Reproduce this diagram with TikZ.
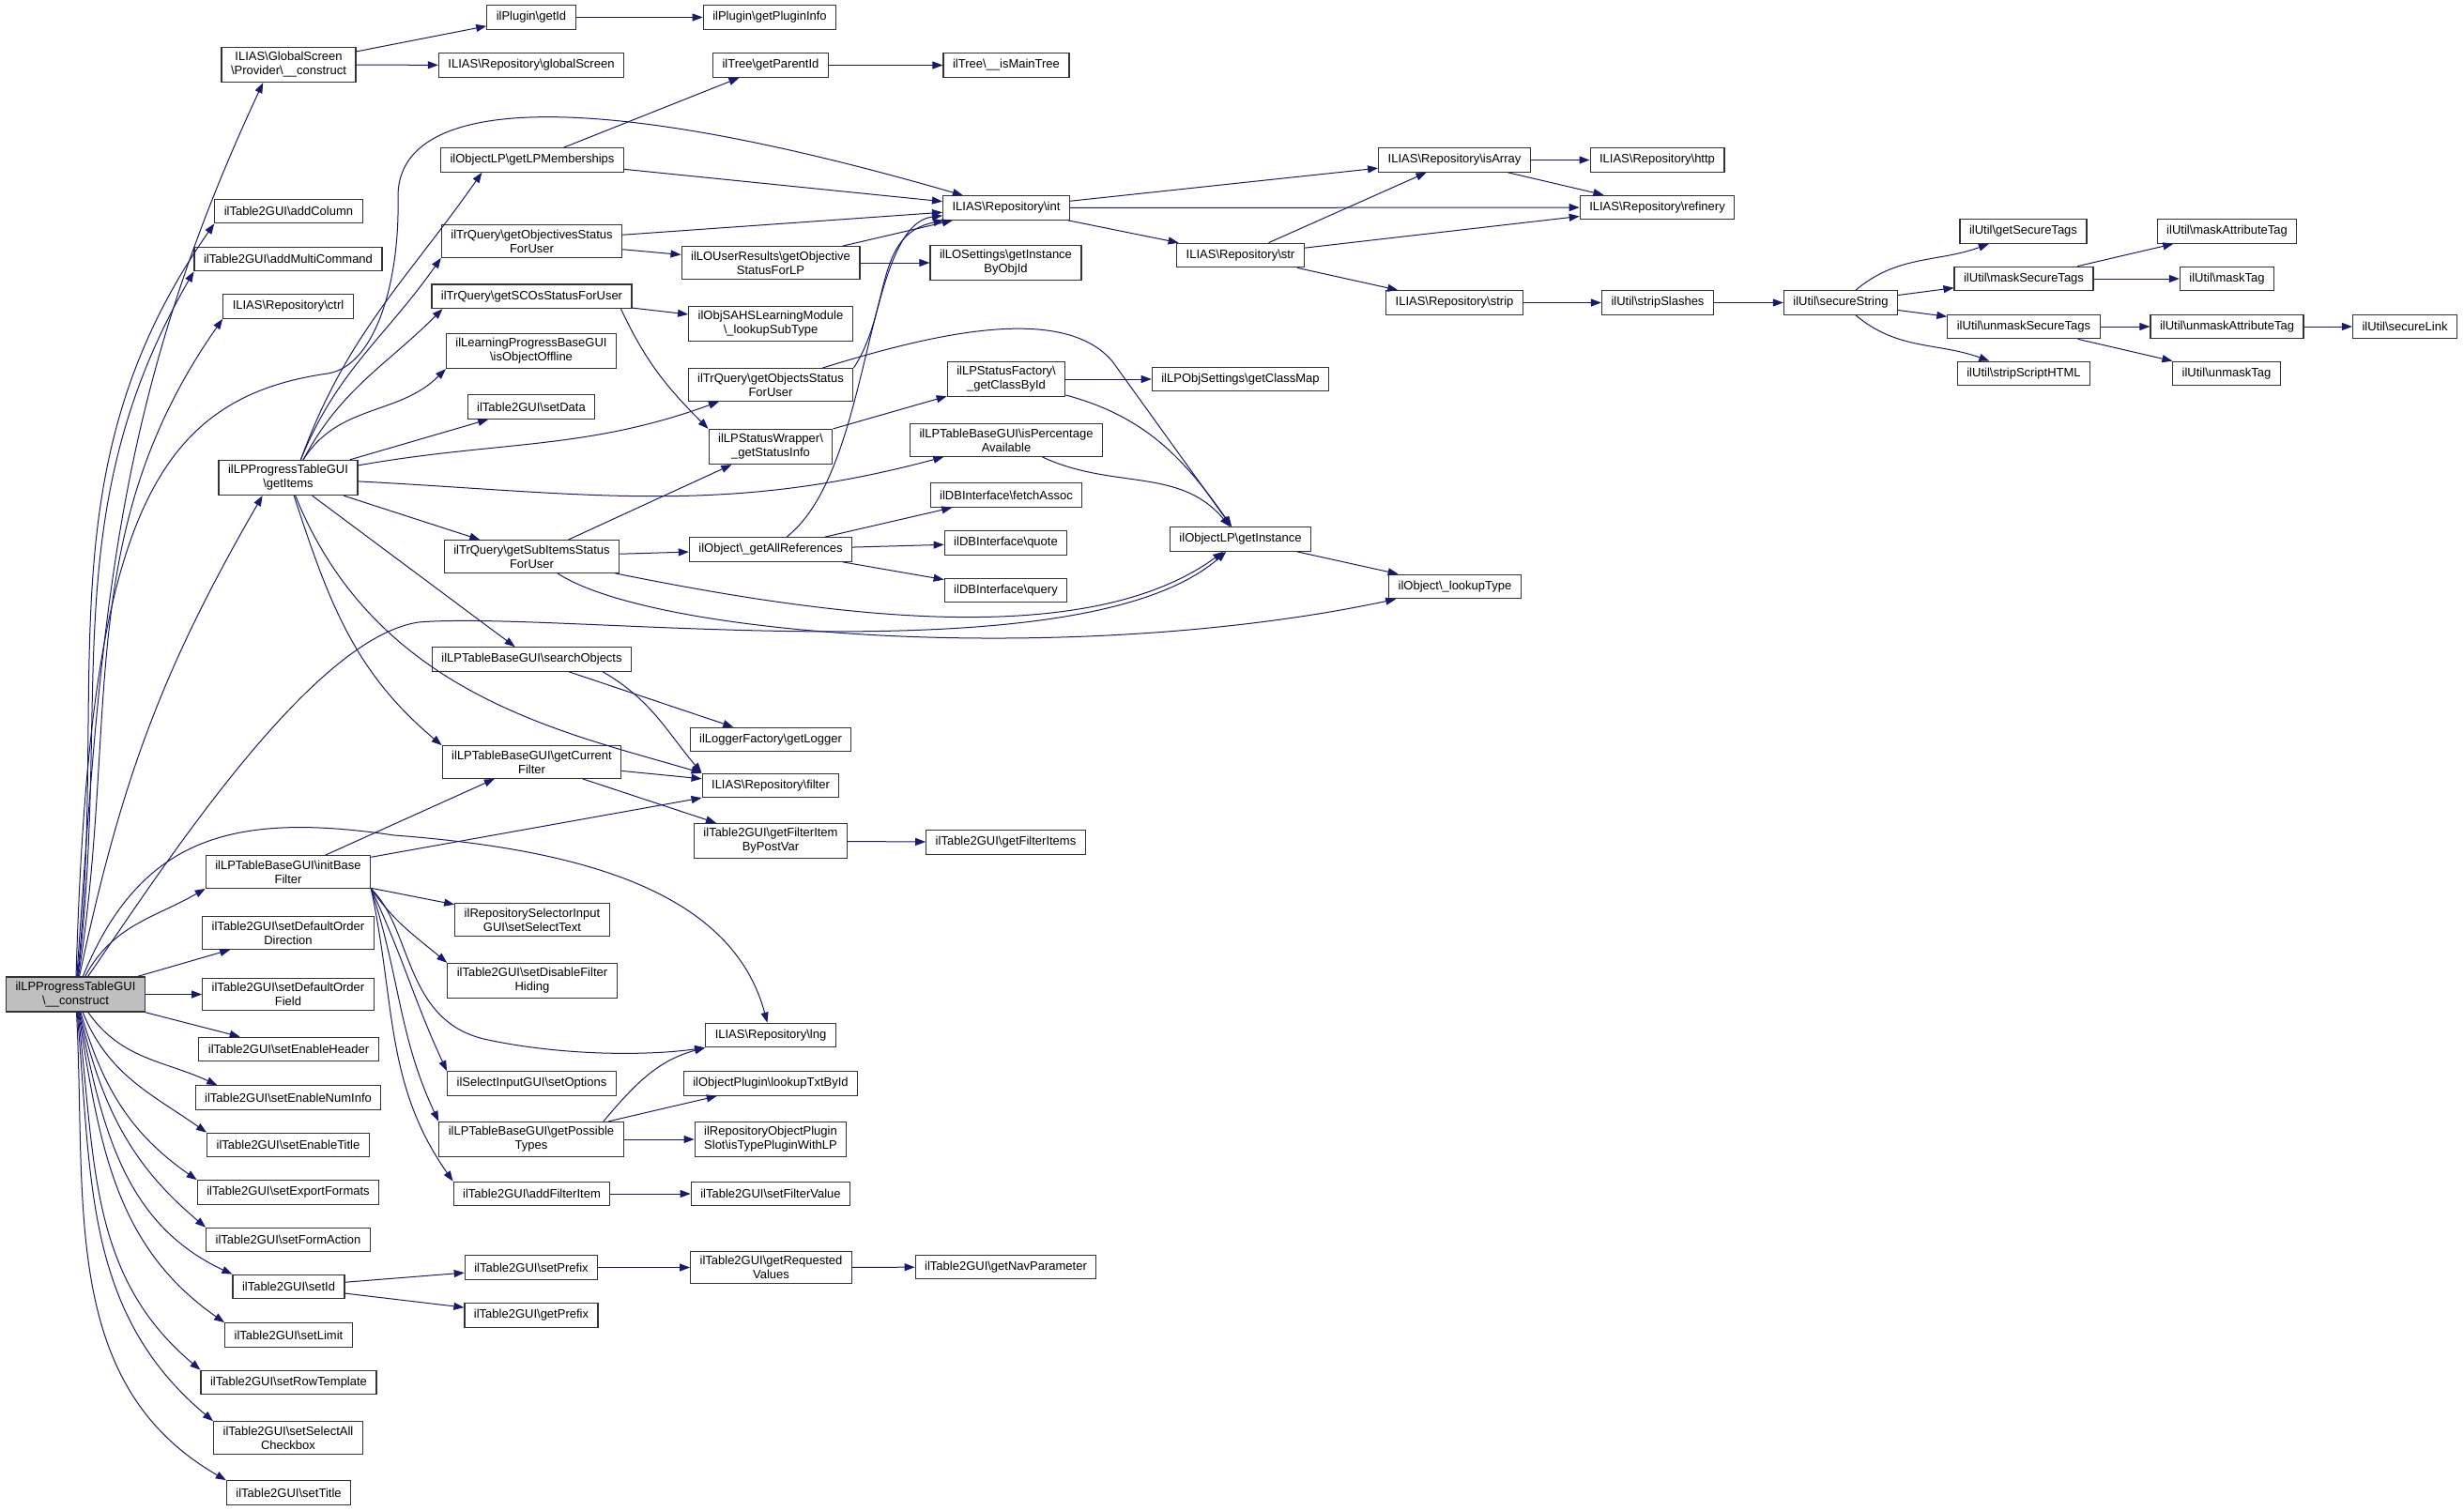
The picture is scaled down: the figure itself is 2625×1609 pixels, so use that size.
\documentclass[tikz,border=0pt]{standalone}
\usepackage{fontspec}
\setmainfont{Liberation Sans}
\usepackage{tikz}
\usetikzlibrary{arrows.meta, positioning}
\definecolor{callblue}{HTML}{191970}
\definecolor{mainfill}{HTML}{BFBFBF}
\newcommand{\bs}{\textbackslash}

\begin{document}
\begin{tikzpicture}[
    x=1pt, y=1pt,
    func/.style={draw=black!80, line width=1.2pt, rectangle, fill=white, align=center, inner xsep=10pt, inner ysep=5pt, minimum height=25.5pt, font=\fontsize{13}{15}\selectfont},
    mainfunc/.style={func, fill=mainfill},
    calls/.style={draw=callblue, line width=1pt, -{Triangle[length=11pt, width=8pt]}}
]
    \useasboundingbox (0, 0) rectangle (2625, -1609);

    % The constructor
    \node[mainfunc] (MAIN) at (80.5, -1059.5) {ilLPProgressTableGUI\\\bs\_\_construct};

    % Direct calls of the constructor
    \node[func] (GS_CONSTRUCT) at (307.5, -69) {ILIAS\bs GlobalScreen\\\bs Provider\bs\_\_construct};
    \node[func] (ADD_COLUMN) at (307.5, -225) {ilTable2GUI\bs addColumn};
    \node[func] (ADD_MULTI) at (307, -276) {ilTable2GUI\bs addMultiCommand};
    \node[func] (CTRL) at (307, -326.5) {ILIAS\bs Repository\bs ctrl};
    \node[func] (GET_ITEMS) at (307, -509) {ilLPProgressTableGUI\\\bs getItems};
    \node[func] (INIT_BASE) at (307, -929) {ilLPTableBaseGUI\bs initBase\\Filter};
    \node[func] (ORDER_DIR) at (307, -994) {ilTable2GUI\bs setDefaultOrder\\Direction};
    \node[func] (ORDER_FIELD) at (307, -1059.5) {ilTable2GUI\bs setDefaultOrder\\Field};
    \node[func] (EN_HEADER) at (307.5, -1118) {ilTable2GUI\bs setEnableHeader};
    \node[func] (EN_NUMINFO) at (307, -1169.5) {ilTable2GUI\bs setEnableNumInfo};
    \node[func] (EN_TITLE) at (307, -1220) {ilTable2GUI\bs setEnableTitle};
    \node[func] (EXPORT_FMT) at (307, -1270.5) {ilTable2GUI\bs setExportFormats};
    \node[func] (FORM_ACTION) at (307, -1321) {ilTable2GUI\bs setFormAction};
    \node[func] (SET_ID) at (307.5, -1371) {ilTable2GUI\bs setId};
    \node[func] (SET_LIMIT) at (307.5, -1422.5) {ilTable2GUI\bs setLimit};
    \node[func] (ROW_TPL) at (307.5, -1473) {ilTable2GUI\bs setRowTemplate};
    \node[func] (SELECT_ALL) at (307, -1532) {ilTable2GUI\bs setSelectAll\\Checkbox};
    \node[func] (SET_TITLE) at (307.5, -1590.5) {ilTable2GUI\bs setTitle};

    % Second level
    \node[func] (GET_ID) at (566, -18.5) {ilPlugin\bs getId};
    \node[func] (GLOBAL_SCREEN) at (566, -69.5) {ILIAS\bs Repository\bs globalScreen};
    \node[func] (GET_LPM) at (567, -170.5) {ilObjectLP\bs getLPMemberships};
    \node[func] (OBJ_SFU) at (566.5, -257) {ilTrQuery\bs getObjectivesStatus\\ForUser};
    \node[func] (SCOS_SFU) at (566.5, -315.8) {ilTrQuery\bs getSCOsStatusForUser};
    \node[func] (OBJ_OFFLINE) at (566, -374) {ilLearningProgressBaseGUI\\\bs isObjectOffline};
    \node[func] (SET_DATA) at (566, -433.5) {ilTable2GUI\bs setData};
    \node[func] (SUB_ITEMS) at (566.5, -593) {ilTrQuery\bs getSubItemsStatus\\ForUser};
    \node[func] (SEARCH) at (566.5, -702.5) {ilLPTableBaseGUI\bs searchObjects};
    \node[func] (CUR_FILTER) at (566.5, -812) {ilLPTableBaseGUI\bs getCurrent\\Filter};
    \node[func] (SELECT_TEXT) at (567, -980) {ilRepositorySelectorInput\\GUI\bs setSelectText};
    \node[func] (DISABLE_FILTER) at (567, -1045) {ilTable2GUI\bs setDisableFilter\\Hiding};
    \node[func] (SET_OPTIONS) at (566.5, -1154.5) {ilSelectInputGUI\bs setOptions};
    \node[func] (POSS_TYPES) at (566, -1214) {ilLPTableBaseGUI\bs getPossible\\Types};
    \node[func] (ADD_FILTER) at (566.5, -1272) {ilTable2GUI\bs addFilterItem};
    \node[func] (SET_PREFIX) at (566, -1350.5) {ilTable2GUI\bs setPrefix};
    \node[func] (GET_PREFIX) at (566, -1401.5) {ilTable2GUI\bs getPrefix};

    % Third level
    \node[func] (PLUGIN_INFO) at (820, -18.5) {ilPlugin\bs getPluginInfo};
    \node[func] (PARENT_ID) at (821, -69.5) {ilTree\bs getParentId};
    \node[func] (OBJ_STATUS_LP) at (821, -280) {ilLOUserResults\bs getObjective\\StatusForLP};
    \node[func] (SUB_TYPE) at (821, -345) {ilObjSAHSLearningModule\\\bs\_lookupSubType};
    \node[func] (OBJECTS_SFU) at (821, -410) {ilTrQuery\bs getObjectsStatus\\ForUser};
    \node[func] (STATUS_INFO) at (821, -476) {ilLPStatusWrapper\bs\\\_getStatusInfo};
    \node[func] (ALL_REFS) at (821, -585.5) {ilObject\bs\_getAllReferences};
    \node[func] (LOGGER) at (821, -788) {ilLoggerFactory\bs getLogger};
    \node[func] (FILTER) at (821, -837) {ILIAS\bs Repository\bs filter};
    \node[func] (ITEM_BY_POST) at (821, -896) {ilTable2GUI\bs getFilterItem\\ByPostVar};
    \node[func] (LNG) at (821, -1103) {ILIAS\bs Repository\bs lng};
    \node[func] (LOOKUP_TXT) at (821, -1154.5) {ilObjectPlugin\bs lookupTxtById};
    \node[func] (TYPE_PLUGIN) at (821, -1214) {ilRepositoryObjectPlugin\\Slot\bs isTypePluginWithLP};
    \node[func] (FILTER_VALUE) at (821, -1272) {ilTable2GUI\bs setFilterValue};
    \node[func] (REQ_VALUES) at (821.5, -1350.5) {ilTable2GUI\bs getRequested\\Values};

    % Fourth level and beyond
    \node[func] (MAIN_TREE) at (1072, -69.5) {ilTree\bs\_\_isMainTree};
    \node[func] (INT) at (1072, -221.5) {ILIAS\bs Repository\bs int};
    \node[func] (LO_SETTINGS) at (1071.5, -280) {ilLOSettings\bs getInstance\\ByObjId};
    \node[func] (CLASS_BY_ID) at (1072, -404) {ilLPStatusFactory\bs\\\_getClassById};
    \node[func] (PERCENT) at (1072, -469) {ilLPTableBaseGUI\bs isPercentage\\Available};
    \node[func] (FETCH) at (1072, -527.5) {ilDBInterface\bs fetchAssoc};
    \node[func] (QUOTE) at (1071.5, -578.5) {ilDBInterface\bs quote};
    \node[func] (QUERY) at (1071.5, -629) {ilDBInterface\bs query};
    \node[func] (FILTER_ITEMS) at (1071.5, -897.5) {ilTable2GUI\bs getFilterItems};
    \node[func] (NAV_PARAM) at (1071.5, -1350) {ilTable2GUI\bs getNavParameter};

    \node[func] (STR) at (1321.5, -272) {ILIAS\bs Repository\bs str};
    \node[func] (CLASS_MAP) at (1321.5, -404) {ilLPObjSettings\bs getClassMap};
    \node[func] (GET_INSTANCE) at (1321.5, -574.5) {ilObjectLP\bs getInstance};

    \node[func] (IS_ARRAY) at (1549.5, -170.5) {ILIAS\bs Repository\bs isArray};
    \node[func] (STRIP) at (1549.5, -322.5) {ILIAS\bs Repository\bs strip};
    \node[func] (LOOKUP_TYPE) at (1550, -625) {ilObject\bs\_lookupType};

    \node[func] (HTTP) at (1765.5, -170.5) {ILIAS\bs Repository\bs http};
    \node[func] (REFINERY) at (1765.5, -221) {ILIAS\bs Repository\bs refinery};
    \node[func] (STRIP_SLASHES) at (1766, -322.5) {ilUtil\bs stripSlashes};
    \node[func] (SECURE_STRING) at (1961, -322.5) {ilUtil\bs secureString};

    \node[func] (GET_SECURE_TAGS) at (2155.5, -246.5) {ilUtil\bs getSecureTags};
    \node[func] (MASK_SECURE) at (2156, -297) {ilUtil\bs maskSecureTags};
    \node[func] (UNMASK_SECURE) at (2156, -348) {ilUtil\bs unmaskSecureTags};
    \node[func] (STRIP_SCRIPT) at (2156, -398) {ilUtil\bs stripScriptHTML};
    \node[func] (MASK_ATTR) at (2372.5, -246.5) {ilUtil\bs maskAttributeTag};
    \node[func] (MASK_TAG) at (2372.5, -297) {ilUtil\bs maskTag};
    \node[func] (UNMASK_ATTR) at (2372.5, -348) {ilUtil\bs unmaskAttributeTag};
    \node[func] (UNMASK_TAG) at (2372, -398) {ilUtil\bs unmaskTag};
    \node[func] (SECURE_LINK) at (2562, -348) {ilUtil\bs secureLink};

    % Calls of the constructor (upwards)
    \draw[calls] (MAIN) to[out=86, in=245] (GS_CONSTRUCT.215);
    \draw[calls] (MAIN) to[out=84, in=235] (ADD_COLUMN.south west);
    \draw[calls] (MAIN) to[out=83, in=240] (ADD_MULTI.south west);
    \draw[calls] (MAIN) to[out=81, in=235] (CTRL.south west);
    \draw[calls] (MAIN) to[out=78, in=240] (GET_ITEMS.215);
    \draw[calls] (MAIN) .. controls (95, -560) and (160, -425) .. (349, -398) .. controls (400, -390) and (426, -300) .. (424, -210) .. controls (423, -110) and (600, -85) .. (INT);
    \draw[calls] (MAIN) .. controls (150, -890) and (250, -865) .. (420, -890) .. controls (620, -905) and (780, -950) .. (LNG);
    \draw[calls] (MAIN) .. controls (170, -930) and (330, -680) .. (446, -663) .. controls (600, -650) and (1150, -725) .. (GET_INSTANCE);
    \draw[calls] (MAIN) to[out=62, in=210] (INIT_BASE.south west);

    % Calls of the constructor (right and downwards)
    \draw[calls] (MAIN) -- (ORDER_DIR);
    \draw[calls] (MAIN) -- (ORDER_FIELD);
    \draw[calls] (MAIN) -- (EN_HEADER);
    \draw[calls] (MAIN) to[out=-55, in=155] (EN_NUMINFO.170);
    \draw[calls] (MAIN) to[out=-68, in=145] (EN_TITLE.north west);
    \draw[calls] (MAIN) to[out=-74, in=145] (EXPORT_FMT.north west);
    \draw[calls] (MAIN) to[out=-77, in=140] (FORM_ACTION.north west);
    \draw[calls] (MAIN) to[out=-79, in=155] (SET_ID.north west);
    \draw[calls] (MAIN) to[out=-81, in=145] (SET_LIMIT.north west);
    \draw[calls] (MAIN) to[out=-83, in=140] (ROW_TPL.north west);
    \draw[calls] (MAIN) to[out=-85, in=140] (SELECT_ALL.north west);
    \draw[calls] (MAIN) to[out=-87, in=150] (SET_TITLE.north west);

    % Provider and plugin
    \draw[calls] (GS_CONSTRUCT) -- (GET_ID);
    \draw[calls] (GS_CONSTRUCT) -- (GLOBAL_SCREEN);
    \draw[calls] (GET_ID) -- (PLUGIN_INFO);

    % getItems
    \draw[calls] (GET_ITEMS.55) to[out=70, in=235] (GET_LPM.194);
    \draw[calls] (GET_ITEMS.55) to[out=68, in=235] (OBJ_SFU.south west);
    \draw[calls] (GET_ITEMS.50) to[out=62, in=225] (SCOS_SFU.188);
    \draw[calls] (GET_ITEMS.50) to[out=58, in=225] (OBJ_OFFLINE.south west);
    \draw[calls] (GET_ITEMS) -- (SET_DATA);
    \draw[calls] (GET_ITEMS) to[out=10, in=200] (OBJECTS_SFU.198);
    \draw[calls] (GET_ITEMS) to[out=-3, in=195] (PERCENT);
    \draw[calls] (GET_ITEMS) -- (SUB_ITEMS);
    \draw[calls] (GET_ITEMS) -- (SEARCH);
    \draw[calls] (GET_ITEMS) to[out=-72, in=140] (CUR_FILTER.north west);
    \draw[calls] (GET_ITEMS) .. controls (400, -740) and (600, -780) .. (FILTER.north west);

    % Learning progress queries
    \draw[calls] (GET_LPM) -- (PARENT_ID);
    \draw[calls] (PARENT_ID) -- (MAIN_TREE);
    \draw[calls] (GET_LPM) -- (INT);
    \draw[calls] (OBJ_SFU) -- (INT);
    \draw[calls] (OBJ_SFU) -- (OBJ_STATUS_LP);
    \draw[calls] (OBJ_STATUS_LP) -- (INT);
    \draw[calls] (OBJ_STATUS_LP) -- (LO_SETTINGS);
    \draw[calls] (SCOS_SFU) -- (SUB_TYPE);
    \draw[calls] (SCOS_SFU.-8) to[out=-65, in=135] (STATUS_INFO.north west);
    \draw[calls] (OBJECTS_SFU.north east) .. controls (950, -330) and (930, -250) .. (INT);
    \draw[calls] (OBJECTS_SFU.18) .. controls (980, -360) and (1130, -320) .. (1185, -385) -- (GET_INSTANCE);
    \draw[calls] (STATUS_INFO) -- (CLASS_BY_ID);
    \draw[calls] (CLASS_BY_ID) -- (CLASS_MAP);
    \draw[calls] (CLASS_BY_ID) to[out=-15, in=125] (GET_INSTANCE);
    \draw[calls] (PERCENT) to[out=-25, in=130] (GET_INSTANCE);
    \draw[calls] (SUB_ITEMS) -- (STATUS_INFO);
    \draw[calls] (SUB_ITEMS) -- (ALL_REFS);
    \draw[calls] (SUB_ITEMS) .. controls (850, -650) and (1150, -700) .. (GET_INSTANCE);
    \draw[calls] (SUB_ITEMS) .. controls (700, -680) and (1150, -710) .. (LOOKUP_TYPE);
    \draw[calls] (ALL_REFS) .. controls (930, -500) and (920, -240) .. (INT);
    \draw[calls] (ALL_REFS) -- (FETCH);
    \draw[calls] (ALL_REFS) -- (QUOTE);
    \draw[calls] (ALL_REFS) -- (QUERY);
    \draw[calls] (GET_INSTANCE) -- (LOOKUP_TYPE);

    % Repository helpers
    \draw[calls] (INT) -- (IS_ARRAY);
    \draw[calls] (INT) -- (REFINERY);
    \draw[calls] (INT) -- (STR);
    \draw[calls] (IS_ARRAY) -- (HTTP);
    \draw[calls] (IS_ARRAY) -- (REFINERY);
    \draw[calls] (STR) -- (IS_ARRAY);
    \draw[calls] (STR) -- (REFINERY);
    \draw[calls] (STR) -- (STRIP);
    \draw[calls] (STRIP) -- (STRIP_SLASHES);
    \draw[calls] (STRIP_SLASHES) -- (SECURE_STRING);

    % ilUtil
    \draw[calls] (SECURE_STRING) to[out=40, in=200] (GET_SECURE_TAGS);
    \draw[calls] (SECURE_STRING) -- (MASK_SECURE);
    \draw[calls] (SECURE_STRING) -- (UNMASK_SECURE);
    \draw[calls] (SECURE_STRING) to[out=-40, in=160] (STRIP_SCRIPT);
    \draw[calls] (MASK_SECURE) -- (MASK_ATTR);
    \draw[calls] (MASK_SECURE) -- (MASK_TAG);
    \draw[calls] (UNMASK_SECURE) -- (UNMASK_ATTR);
    \draw[calls] (UNMASK_SECURE) -- (UNMASK_TAG);
    \draw[calls] (UNMASK_ATTR) -- (SECURE_LINK);

    % Filters
    \draw[calls] (SEARCH) -- (LOGGER);
    \draw[calls] (SEARCH.-10) to[out=-30, in=130] (FILTER.north west);
    \draw[calls] (CUR_FILTER) -- (FILTER);
    \draw[calls] (CUR_FILTER) -- (ITEM_BY_POST);
    \draw[calls] (ITEM_BY_POST) -- (FILTER_ITEMS);
    \draw[calls] (INIT_BASE) -- (CUR_FILTER);
    \draw[calls] (INIT_BASE) -- (FILTER);
    \draw[calls] (INIT_BASE) -- (SELECT_TEXT);
    \draw[calls] (INIT_BASE.south east) to[out=-55, in=140] (DISABLE_FILTER.north west);
    \draw[calls] (INIT_BASE.south east) to[out=-65, in=115] (SET_OPTIONS.north west);
    \draw[calls] (INIT_BASE.south east) to[out=-72, in=115] (POSS_TYPES.north west);
    \draw[calls] (INIT_BASE.south east) to[out=-78, in=125] (ADD_FILTER.north west);
    \draw[calls] (INIT_BASE.south east) .. controls (440, -990) and (430, -1090) .. (520, -1108) .. controls (600, -1125) and (690, -1125) .. (LNG.south west);
    \draw[calls] (POSS_TYPES.14) to[out=50, in=195] (LNG.south west);
    \draw[calls] (POSS_TYPES) -- (LOOKUP_TXT);
    \draw[calls] (POSS_TYPES) -- (TYPE_PLUGIN);
    \draw[calls] (ADD_FILTER) -- (FILTER_VALUE);

    % Prefix handling
    \draw[calls] (SET_ID) -- (SET_PREFIX);
    \draw[calls] (SET_ID) -- (GET_PREFIX);
    \draw[calls] (SET_PREFIX) -- (REQ_VALUES);
    \draw[calls] (REQ_VALUES) -- (NAV_PARAM);

\end{tikzpicture}
\end{document}
